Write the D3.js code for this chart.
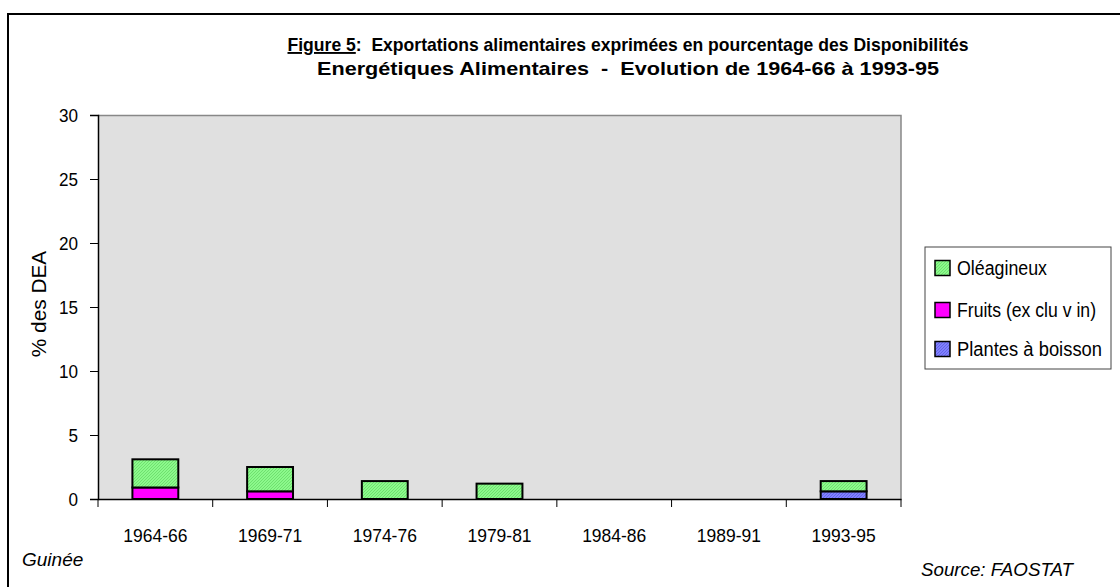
<!DOCTYPE html>
<html>
<head>
<meta charset="utf-8">
<script src="https://cdn.jsdelivr.net/npm/d3@7"></script>
<style>
  body { margin: 0; background: #fff; }
  svg text { font-family: "Liberation Sans", Arial, sans-serif; fill: #000; }
</style>
</head>
<body>
<div id="chart"></div>
<script>
// periods and stacked series (% des DEA)
const periods = ["1964-66", "1969-71", "1974-76", "1979-81", "1984-86", "1989-91", "1993-95"];
const plantesBoisson = [0, 0, 0, 0, 0, 0, 0.6];
const fruits = [0.9, 0.6, 0, 0, 0, 0, 0];
const oleagineux = [2.2, 1.9, 1.4, 1.2, 0, 0, 0.8];
const seriesNames = ["Plantes à boisson", "Fruits (exclu vin)", "Oléagineux"];
const yTicks = [0, 5, 10, 15, 20, 25, 30];

const W = 1120, H = 587;
const margin = { top: 115, left: 98, right: 219, bottom: 88 };
const width = W - margin.left - margin.right;
const height = H - margin.top - margin.bottom;

const svg = d3.select("#chart").append("svg")
  .attr("width", W)
  .attr("height", H);

// the original uses a condensed face, so squeeze the text horizontally
function squeeze(sel, k) {
  sel.each(function () {
    const len = this.getComputedTextLength();
    d3.select(this)
      .attr("textLength", len * k)
      .attr("lengthAdjust", "spacingAndGlyphs");
  });
}

// textures for the fills
const defs = svg.append("defs");
function dither(id, base, dot) {
  const p = defs.append("pattern")
    .attr("id", id)
    .attr("width", 3).attr("height", 3)
    .attr("patternUnits", "userSpaceOnUse");
  p.append("rect").attr("width", 3).attr("height", 3).attr("fill", base);
  p.append("rect").attr("x", 0).attr("y", 0).attr("width", 1).attr("height", 1).attr("fill", dot);
  p.append("rect").attr("x", 2).attr("y", 1).attr("width", 1).attr("height", 1).attr("fill", dot);
  p.append("rect").attr("x", 1).attr("y", 2).attr("width", 1).attr("height", 1).attr("fill", dot);
}
dither("patGreen", "#8cf98c", "#6fe06f");
dither("patBlue", "#8080ff", "#6464e6");

const colors = {
  "Plantes à boisson": "url(#patBlue)",
  "Fruits (exclu vin)": "#ff00ff",
  "Oléagineux": "url(#patGreen)"
};

// outer frame (clipped on right and bottom like the original)
svg.append("rect")
  .attr("x", 8).attr("y", 14)
  .attr("width", W + 20).attr("height", H + 20)
  .attr("fill", "none")
  .attr("stroke", "#000")
  .attr("stroke-width", 2);

const g = svg.append("g")
  .attr("transform", "translate(" + margin.left + "," + margin.top + ")");

const x = d3.scaleBand().domain(periods).range([0, width]).paddingInner(0).paddingOuter(0);
const y = d3.scaleLinear().domain([0, 30]).range([height, 0]);

// plot area
g.append("rect")
  .attr("width", width).attr("height", height)
  .attr("fill", "#e0e0e0");
g.append("path")
  .attr("d", "M0,0.5H" + width + "V" + height)
  .attr("fill", "none")
  .attr("stroke", "#888")
  .attr("stroke-width", 1.5);

// stacked data
const table = periods.map((p, i) => ({
  period: p,
  "Plantes à boisson": plantesBoisson[i],
  "Fruits (exclu vin)": fruits[i],
  "Oléagineux": oleagineux[i]
}));
const stacked = d3.stack().keys(seriesNames)(table);

const barW = x.bandwidth() * 0.4;
g.selectAll(".layer")
  .data(stacked)
  .join("g")
  .attr("class", "layer")
  .attr("fill", d => colors[d.key])
  .selectAll("rect")
  .data(d => d.filter(v => v[1] - v[0] > 0))
  .join("rect")
  .attr("x", d => x(d.data.period) + (x.bandwidth() - barW) / 2)
  .attr("y", d => y(d[1]))
  .attr("width", barW)
  .attr("height", d => y(d[0]) - y(d[1]))
  .attr("stroke", "#000")
  .attr("stroke-width", 2);

// axes
const yAxis = d3.axisLeft(y).tickValues(yTicks).tickSize(8).tickPadding(12);
const yG = g.append("g").call(yAxis);
yG.select(".domain").attr("stroke", "#000").attr("stroke-width", 1.5);
yG.selectAll(".tick line").attr("stroke", "#000");
yG.selectAll(".tick text").style("font-size", "19px").attr("dy", "0.35em").call(squeeze, 0.9);

const xAxis = d3.axisBottom(x).tickSize(0).tickPadding(0);
const xG = g.append("g").attr("transform", "translate(0," + height + ")").call(xAxis);
xG.select(".domain").attr("stroke", "#000").attr("stroke-width", 1.5);
xG.selectAll(".tick text").attr("y", 43).attr("dy", null).style("font-size", "19px").call(squeeze, 0.92);
// category separators below the axis
xG.selectAll(".sep")
  .data(periods.concat(["end"]))
  .join("line")
  .attr("class", "sep")
  .attr("x1", (d, i) => i * x.step())
  .attr("x2", (d, i) => i * x.step())
  .attr("y1", 0).attr("y2", 8)
  .attr("stroke", "#000");

// y title
svg.append("text")
  .attr("transform", "translate(46," + 304 + ") rotate(-90)")
  .attr("text-anchor", "middle")
  .style("font-size", "20px")
  .text("% des DEA")
  .call(squeeze, 1.04);

// title, two lines squeezed to the widths of the original
function titleLine(yPos, parts, target) {
  const t = svg.append("text")
    .attr("x", 628).attr("y", yPos)
    .attr("text-anchor", "middle")
    .style("font-size", "19px")
    .style("font-weight", "bold")
    .style("white-space", "pre");
  const spans = parts.map(p => t.append("tspan")
    .style("text-decoration", p.u ? "underline" : null)
    .text(p.s));
  const total = spans.reduce((s, sp) => s + sp.node().getComputedTextLength(), 0);
  const k = target / total;
  spans.forEach(sp => sp
    .attr("textLength", sp.node().getComputedTextLength() * k)
    .attr("lengthAdjust", "spacingAndGlyphs"));
}
titleLine(51, [{ s: "Figure 5", u: true }, { s: ":  Exportations alimentaires exprimées en pourcentage des Disponibilités" }], 681);
titleLine(75, [{ s: "Energétiques Alimentaires  -  Evolution de 1964-66 à 1993-95" }], 622);

// legend
const legend = svg.append("g").attr("transform", "translate(925,247)");
legend.append("rect")
  .attr("width", 186).attr("height", 122)
  .attr("fill", "#fff")
  .attr("stroke", "#444");
const legendOrder = ["Oléagineux", "Fruits (exclu vin)", "Plantes à boisson"];
const legendLabels = ["Oléagineux", "Fruits (ex clu v in)", "Plantes à boisson"];
const legendWidths = [90, 139, 145];
const item = legend.selectAll(".item")
  .data(legendOrder)
  .join("g")
  .attr("class", "item")
  .attr("transform", (d, i) => "translate(10," + [21, 63, 102][i] + ")");
item.append("rect")
  .attr("x", 0).attr("y", -7.5)
  .attr("width", 15).attr("height", 15)
  .attr("fill", d => colors[d])
  .attr("stroke", "#000")
  .attr("stroke-width", 1.5);
item.append("text")
  .attr("x", 22).attr("y", 7)
  .style("font-size", "20px")
  .style("white-space", "pre")
  .attr("textLength", (d, i) => legendWidths[i])
  .attr("lengthAdjust", "spacingAndGlyphs")
  .text((d, i) => legendLabels[i]);

// footer notes
svg.append("text")
  .attr("x", 22).attr("y", 566)
  .style("font-size", "19px")
  .style("font-style", "italic")
  .text("Guinée");
svg.append("text")
  .attr("x", 921).attr("y", 576)
  .style("font-size", "19px")
  .style("font-style", "italic")
  .attr("textLength", 152)
  .attr("lengthAdjust", "spacingAndGlyphs")
  .text("Source: FAOSTAT");
</script>
</body>
</html>
